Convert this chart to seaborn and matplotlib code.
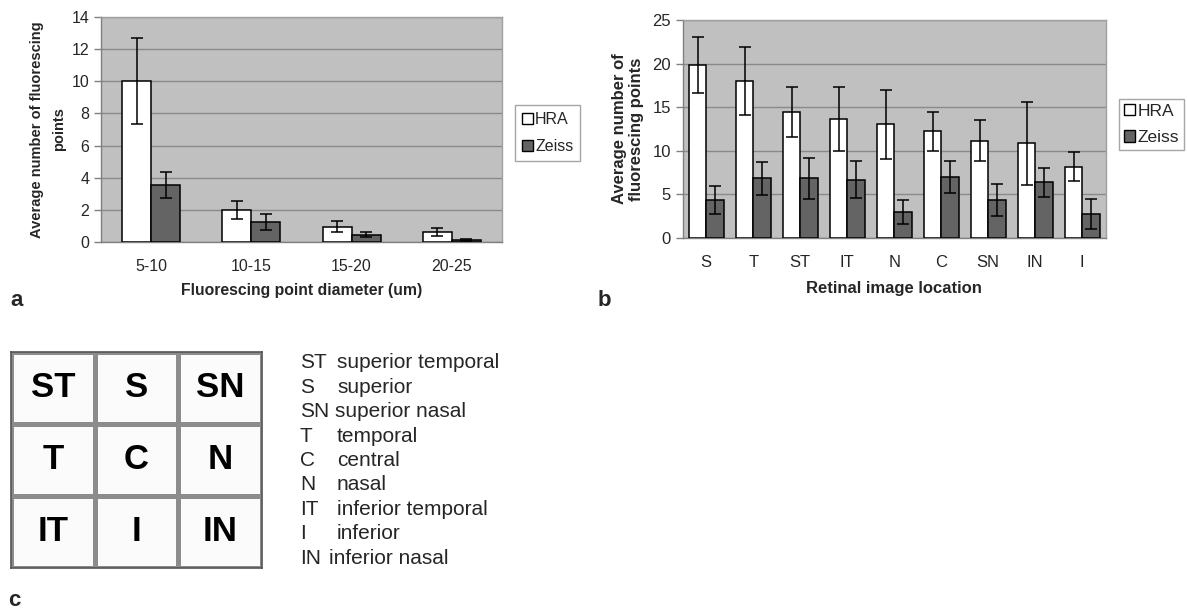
import numpy as np
import pandas as pd
import matplotlib.pyplot as plt
import seaborn as sns
from matplotlib.patches import Patch
from matplotlib.colors import ListedColormap

# --- dane: panel a (srednica punktu) ---
diam_labels = ["5-10", "10-15", "15-20", "20-25"]
diam_hra = [10.0, 2.0, 0.95, 0.6]
diam_hra_err = [2.67, 0.55, 0.35, 0.25]
diam_zeiss = [3.55, 1.25, 0.45, 0.15]
diam_zeiss_err = [0.8, 0.48, 0.17, 0.06]

# --- dane: panel b (lokalizacja na siatkowce) ---
loc_labels = ["S", "T", "ST", "IT", "N", "C", "SN", "IN", "I"]
loc_hra = [19.85, 18.0, 14.43, 13.66, 13.05, 12.25, 11.18, 10.84, 8.2]
loc_hra_err = [3.2, 3.9, 2.9, 3.7, 3.95, 2.25, 2.35, 4.75, 1.7]
loc_zeiss = [4.35, 6.83, 6.83, 6.68, 2.98, 6.98, 4.35, 6.37, 2.79]
loc_zeiss_err = [1.65, 1.87, 2.4, 2.1, 1.35, 1.8, 1.87, 1.7, 1.72]

# --- dane: panel c (siatka 3x3 i opis skrotow) ---
grid_labels = [["ST", "S", "SN"], ["T", "C", "N"], ["IT", "I", "IN"]]
abbr = ["ST", "S", "SN", "T", "C", "N", "IT", "I", "IN"]
abbr_desc = ["superior temporal", "superior", "superior nasal", "temporal",
             "central", "nasal", "inferior temporal", "inferior", "inferior nasal"]

devices = ["HRA", "Zeiss"]
colors = {"HRA": "white", "Zeiss": "#646464"}

sns.set_style("white")
plt.rcParams["font.family"] = ["Liberation Sans", "DejaVu Sans"]


def excel_bars(ax, labels, hra, hra_err, zeiss, zeiss_err, width, ymax, ystep, fs):
    df = pd.DataFrame({
        "cat": labels * 2,
        "device": ["HRA"] * len(labels) + ["Zeiss"] * len(labels),
        "value": hra + zeiss,
    })
    sns.barplot(data=df, x="cat", y="value", hue="device", order=labels,
                hue_order=devices, palette=colors, width=width, errorbar=None,
                edgecolor="black", linewidth=1.1, legend=False, ax=ax, zorder=3)
    # slupki bledow na srodkach slupkow
    for cont, errs in zip(ax.containers, [hra_err, zeiss_err]):
        xs = [p.get_x() + p.get_width() / 2 for p in cont.patches]
        hs = [p.get_height() for p in cont.patches]
        ax.errorbar(xs, hs, yerr=errs, fmt="none", ecolor="black",
                    elinewidth=1.1, capsize=4, capthick=1.1, zorder=4)
    ax.set_facecolor("#c0c0c0")
    ax.set_ylim(0, ymax)
    ax.set_xlim(-0.5, len(labels) - 0.5)
    ax.set_yticks(np.arange(0, ymax + 0.1, ystep))
    ax.yaxis.grid(True, color="#8a8a8a", linewidth=1, zorder=0)
    ax.set_axisbelow(True)
    ax.set_xticks(np.arange(-0.5, len(labels)), minor=True)
    ax.tick_params(axis="x", which="major", length=0, pad=12, labelsize=fs)
    ax.tick_params(axis="x", which="minor", length=5, width=1, color="#808080",
                   direction="out")
    ax.tick_params(axis="y", length=5, width=1, color="#808080", labelsize=fs,
                   direction="out", left=True)
    for side in ["top", "right"]:
        ax.spines[side].set_color("#a0a0a0")
    for side in ["left", "bottom"]:
        ax.spines[side].set_color("#808080")
    for s in ax.spines.values():
        s.set_linewidth(1)


fig = plt.figure(figsize=(11.87, 6.10), dpi=100)

# ==========================================
# PANEL A
# ==========================================
ax_a = fig.add_axes([0.0851, 0.6033, 0.3378, 0.3688])
excel_bars(ax_a, diam_labels, diam_hra, diam_hra_err, diam_zeiss, diam_zeiss_err,
           0.58, 14, 2, 11.5)
ax_a.set_xlabel("Fluorescing point diameter (um)", fontsize=11.3,
                fontweight="bold", labelpad=7)
ax_a.set_ylabel("Average number of fluorescing\npoints", fontsize=10.5,
                fontweight="bold", labelpad=4, linespacing=1.75)

# ==========================================
# PANEL B
# ==========================================
ax_b = fig.add_axes([0.5752, 0.6098, 0.3563, 0.3574])
excel_bars(ax_b, loc_labels, loc_hra, loc_hra_err, loc_zeiss, loc_zeiss_err,
           0.74, 25, 5, 12)
ax_b.set_xlabel("Retinal image location", fontsize=12, fontweight="bold",
                labelpad=8)
ax_b.set_ylabel("Average number of\nfluorescing points", fontsize=12,
                fontweight="bold", labelpad=6)

handles = [Patch(facecolor=colors[d], edgecolor="black", linewidth=1) for d in devices]
leg_kw = dict(loc="upper left", frameon=True, fancybox=False, handlelength=0.65,
              handleheight=0.65, handletextpad=0.15, borderaxespad=0)
la = fig.legend(handles, devices, bbox_to_anchor=(0.4339, 0.828), fontsize=11.5,
                labelspacing=0.75, borderpad=0.45, **leg_kw)
lb = fig.legend(handles, devices, bbox_to_anchor=(0.9427, 0.838), fontsize=12.5,
                labelspacing=0.65, borderpad=0.28, **leg_kw)
for lg in (la, lb):
    lg.get_frame().set_edgecolor("#909090")
    lg.get_frame().set_linewidth(1)

# ==========================================
# PANEL C
# ==========================================
ax_c = fig.add_axes([0.0093, 0.0689, 0.2115, 0.3541])
sns.heatmap(np.zeros((3, 3)), annot=np.array(grid_labels), fmt="",
            cmap=ListedColormap(["#fbfbfb"]), cbar=False, linewidths=2.5,
            linecolor="#8c8c8c", xticklabels=False, yticklabels=False,
            annot_kws={"fontsize": 25, "fontweight": "bold", "color": "black"},
            ax=ax_c)
for s in ax_c.spines.values():
    s.set_visible(True)
    s.set_color("#555555")
    s.set_linewidth(1.2)

desc_x = {"SN": 335, "IN": 329}
y0 = 1 - 363 / 610
dy = 24.4 / 610
for i, (a, d) in enumerate(zip(abbr, abbr_desc)):
    y = y0 - i * dy
    fig.text(300 / 1187, y, a, fontsize=15, va="center", ha="left")
    fig.text(desc_x.get(a, 337) / 1187, y, d, fontsize=15, va="center", ha="left")

# litery paneli
fig.text(10 / 1187, 1 - 300 / 610, "a", fontsize=16, fontweight="bold", va="center")
fig.text(598 / 1187, 1 - 300 / 610, "b", fontsize=16, fontweight="bold", va="center")
fig.text(8 / 1187, 1 - 600 / 610, "c", fontsize=16, fontweight="bold", va="center")

fig.savefig("out.png", dpi=100)
